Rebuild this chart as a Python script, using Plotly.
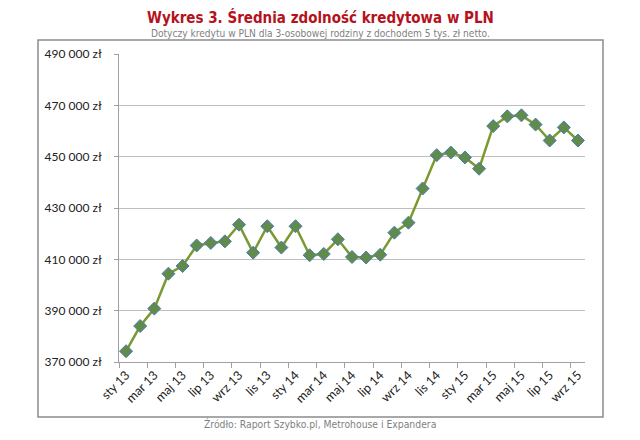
import plotly.graph_objects as go

months = ["sty", "lut", "mar", "kwi", "maj", "cze", "lip", "sie", "wrz", "paź", "lis", "gru"]
years = ["13", "14", "15"]
categories = [f"{m} {y}" for y in years for m in months][:33]

values = [374200, 384000, 390800, 404400, 407400, 415400, 416400, 417000, 423500,
          412600, 422900, 414600, 422900, 411600, 412100, 417800, 410900, 410700,
          411800, 420400, 424300, 437600, 450600, 451600, 449700, 445300, 461900,
          465700, 466100, 462500, 456300, 461400, 456300]

y_ticks = [370000, 390000, 410000, 430000, 450000, 470000, 490000]
y_ticktext = [f"{v:,}".replace(",", " ") + " zł" for v in y_ticks]

title = "Wykres 3. Średnia zdolność kredytowa w PLN"
subtitle = "Dotyczy kredytu w PLN dla 3-osobowej rodziny z dochodem 5 tys. zł netto."
source = "Źródło: Raport Szybko.pl, Metrohouse i Expandera"

xs = list(range(len(categories)))
label_idx = xs[::2]

fig = go.Figure()
fig.add_trace(go.Scatter(
    x=xs, y=values, mode="lines+markers",
    line=dict(color="#7A9A30", width=2.5),
    marker=dict(symbol="diamond", size=10, color="#618B4B",
                line=dict(color="#4A7DB3", width=1)),
    hoverinfo="skip", showlegend=False,
))

cx = (320 - 119) / 466

fig.update_layout(
    width=640, height=440,
    margin=dict(l=119, r=55, t=54, b=78),
    paper_bgcolor="white", plot_bgcolor="white",
    font=dict(family="Lato, Carlito, sans-serif", size=12, color="#222222"),
    xaxis=dict(
        range=[-0.5, len(categories) - 0.5],
        tickmode="array", tickvals=label_idx,
        ticktext=[categories[i] for i in label_idx],
        tickangle=-45, ticks="", showgrid=False, zeroline=False,
        showline=True, linecolor="#A0A0A0", linewidth=1,
        tickfont=dict(size=12.5, color="#222222"),
        minor=dict(tickmode="array",
                   tickvals=[i - 0.5 for i in label_idx],
                   ticks="outside", ticklen=5, tickcolor="#A0A0A0", showgrid=False),
    ),
    yaxis=dict(
        range=[y_ticks[0], y_ticks[-1]],
        tickmode="array", tickvals=y_ticks, ticktext=y_ticktext,
        showgrid=True, gridcolor="#BEBEBE", gridwidth=1,
        ticks="outside", ticklen=4, tickcolor="#A0A0A0",
        ticklabelstandoff=10,
        showline=True, linecolor="#A0A0A0", linewidth=1, zeroline=False,
        tickfont=dict(size=12, color="#222222"),
    ),
    shapes=[dict(type="rect", xref="paper", yref="paper",
                 x0=-0.1738, x1=1.0386, y0=-0.1786, y1=1.0455,
                 line=dict(color="#8C8C8C", width=1.5), fillcolor="rgba(0,0,0,0)",
                 layer="below")],
    annotations=[
        dict(text=f"<b>{title}</b>", xref="paper", yref="paper", x=cx, y=(362 - 17) / 308,
             xanchor="center", yanchor="middle", showarrow=False,
             font=dict(family="DejaVu Sans Condensed, DejaVu Sans, sans-serif", size=15, color="#B5121B")),
        dict(text=subtitle, xref="paper", yref="paper", x=cx, y=(362 - 33) / 308,
             xanchor="center", yanchor="middle", showarrow=False,
             font=dict(family="DejaVu Sans Condensed, DejaVu Sans, sans-serif", size=10.1, color="#7F7F7F")),
        dict(text=source, xref="paper", yref="paper", x=cx, y=(362 - 424) / 308,
             xanchor="center", yanchor="middle", showarrow=False,
             font=dict(family="DejaVu Sans Condensed, DejaVu Sans, sans-serif", size=10.3, color="#7F7F7F")),
    ],
)

fig.write_html("out.html")
